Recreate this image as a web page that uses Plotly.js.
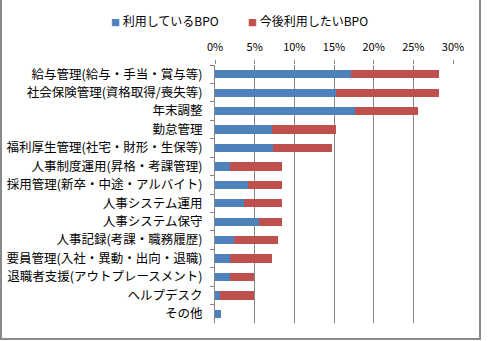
<!DOCTYPE html>
<html>
<head>
<meta charset="utf-8">
<script src="https://cdn.plot.ly/plotly-3.0.1.min.js"></script>
<style>
  html, body { margin: 0; padding: 0; background: #fff; }
  #wrap { position: relative; width: 490px; height: 341px; overflow: hidden; }
  #chart { width: 490px; height: 341px; }
  #frame { position: absolute; left: 0; top: -2px; width: 481px; height: 342px;
           border: 2px solid #8a8a8a; box-sizing: border-box; pointer-events: none; }
</style>
</head>
<body>
<div id="wrap"><div id="chart"></div><div id="frame"></div></div>
<script>
const categories = [
  '給与管理(給与・手当・賞与等)',
  '社会保険管理(資格取得/喪失等)',
  '年末調整',
  '勤怠管理',
  '福利厚生管理(社宅・財形・生保等)',
  '人事制度運用(昇格・考課管理)',
  '採用管理(新卒・中途・アルバイト)',
  '人事システム運用',
  '人事システム保守',
  '人事記録(考課・職務履歴)',
  '要員管理(入社・異動・出向・退職)',
  '退職者支援(アウトプレースメント)',
  'ヘルプデスク',
  'その他'
];
const seriesNames = ['利用しているBPO', '今後利用したいBPO'];
const seriesColors = ['#4F81BD', '#C0504D'];
const usingNow = [17.2, 15.3, 17.7, 7.2, 7.3, 1.9, 4.2, 3.6, 5.6, 2.4, 1.9, 1.9, 0.6, 0.7];
const wantFuture = [11.0, 12.9, 7.9, 8.1, 7.4, 6.6, 4.3, 4.9, 2.9, 5.5, 5.3, 3.0, 4.3, 0];
const xTickVals = [0, 5, 10, 15, 20, 25, 30];
const xTickText = ['0%', '5%', '10%', '15%', '20%', '25%', '30%'];

const FONT = '"Noto Sans CJK JP", "Noto Sans", sans-serif';

const data = [
  { type: 'bar', orientation: 'h', name: seriesNames[0], y: categories, x: usingNow,
    marker: { color: seriesColors[0] } },
  { type: 'bar', orientation: 'h', name: seriesNames[1], y: categories, x: wantFuture,
    marker: { color: seriesColors[1] } }
];

// legend entries drawn as annotations (coloured square + label)
const legendX = [-0.4454, 0.1303];
const annotations = seriesNames.map((n, i) => ({
  xref: 'paper', yref: 'paper', x: legendX[i], y: 1.1744,
  xanchor: 'left', yanchor: 'middle', showarrow: false,
  text: '<span style="color:' + seriesColors[i] + ';font-size:9px">■</span> ' + n,
  font: { family: FONT, size: 12, color: '#000' }
}));

const layout = {
  width: 490, height: 341,
  margin: { l: 215, r: 37, t: 65, b: 18, pad: 0 },
  paper_bgcolor: '#fff', plot_bgcolor: '#fff',
  font: { family: FONT, size: 12, color: '#000' },
  barmode: 'stack',
  bargap: 0.55,
  showlegend: false,
  annotations: annotations,
  xaxis: {
    side: 'top', range: [0, 30], tickvals: xTickVals, ticktext: xTickText,
    showgrid: true, gridcolor: '#868686', gridwidth: 1,
    zeroline: false, showline: false,
    ticks: 'outside', ticklen: 4, tickcolor: '#868686',
    ticklabelstandoff: 5,
    tickfont: { family: FONT, size: 11, color: '#000' },
    automargin: false
  },
  yaxis: {
    type: 'category', autorange: 'reversed',
    showline: true, linecolor: '#868686', linewidth: 1,
    ticks: 'outside', ticklen: 4, tickcolor: '#868686', tickson: 'boundaries',
    showgrid: false, zeroline: false,
    ticklabelstandoff: 9,
    tickfont: { family: FONT, size: 12.5, color: '#000' },
    automargin: false
  }
};

Plotly.newPlot('chart', data, layout, { displayModeBar: false, staticPlot: true });
</script>
</body>
</html>
